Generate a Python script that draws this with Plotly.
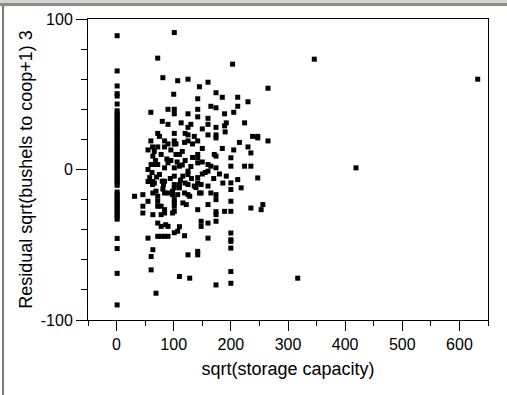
import plotly.graph_objects as go

# Column of points at storage capacity ~0
col_x = [1] * 57
col_y = [88.9, 65.5, 55.5, 50.4, 48.8, 43.5, 39, 37.5, 36, 34.5, 33, 31.5, 30, 28.5, 27,
         25.5, 24, 22.5, 21, 19.5, 18, 16.5, 15, 13.5, 12, 10.5, 9, 7.5, 6, 4.5, 3, 1.5, 0,
         -1.5, -3, -4.5, -6, -7.5, -9, -10.5, -15, -16.5, -18, -19.5, -21, -22.5, -24, -25.5,
         -27, -28.5, -30, -31.5, -33, -45.8, -52.5, -69, -90]

# Scattered points (sqrt storage capacity, residual)
pts_x = [101, 72, 203, 81, 107, 125, 160, 265, 174, 142, 212, 212, 165, 174, 60, 90, 101, 101, 142,
         125, 142, 189, 160, 113, 90, 160, 192, 189, 224, 125, 174, 72, 101, 125, 136, 160, 174, 174,
         238, 247, 247, 265, 75, 60, 84, 101, 125, 142, 63, 72, 84, 90, 101, 104, 119, 133,
         63.5, 78, 104, 110, 142, 142, 142, 171, 174, 200, 235,
         60.5, 66, 72, 84, 90, 101, 110, 55,
         58, 63, 55, 63, 66, 75, 80, 84, 82,
         101, 116, 125, 125, 142, 142, 160, 165, 174, 160, 192, 200, 200, 200, 212, 218, 224, 235, 247,
         101, 110, 125, 136, 148, 160,
         31.5, 46, 55, 63.5, 69, 72, 81, 84, 90, 98, 98, 101, 101, 101, 101, 101, 107, 110, 119, 125,
         128, 139, 145, 148, 165, 174, 174,
         72, 72, 78, 84, 46, 46, 63.5, 78, 84, 98, 116, 122, 142, 160, 174, 174, 189, 200, 200, 235,
         253, 256,
         72, 78, 86, 90, 72, 78, 84, 90, 101, 107, 110, 119, 148, 148, 160, 174, 160, 200, 200, 200,
         200, 55, 63.5, 60.5, 125, 142, 142, 60.5, 110, 128, 174, 200, 200, 69,
         346, 632, 419, 317,
         68, 88, 95, 106, 115, 120, 130, 133, 150, 155, 62, 70, 94, 112, 120, 131, 150, 170, 180, 186,
         55, 66, 95, 115, 150, 185, 205, 215, 230, 120, 150, 190, 80, 130, 205, 185, 100, 145, 230]
pts_y = [91, 74, 70, 61, 59, 60, 58, 54, 51, 47, 48, 42, 42, 41, 38, 40, 40, 37, 40,
         37, 35, 37, 34, 31, 30, 30, 31, 29, 31, 28, 28, 24, 24, 23, 22, 23, 23, 21,
         22, 22, 21, 19, 22, 19, 19, 19, 19, 19, 15, 15, 15, 17, 17, 17, 18, 17,
         8.9, 10, 10, 10, 10, 7.8, 4.4, 10, 8.9, 7.8, 11,
         3.3, 3.3, 3.3, 1.1, 4.4, 1.1, 2.2, 0,
         -5.4, -8, -8, -10, -9, -3.3, -7.8, -7.8, -10,
         -4.4, -4.4, -3.3, -1.1, -5.4, -8.9, 3.3, 2.2, 1.1, -1.1, -4.4, 2.2, -8.9, -13.3, -6.7, -12.2, 2.2, 2.2, -5.6,
         -10, -10, -10, -11, -10, -11,
         -17.8, -16.7, -21.1, -15.6, -14.4, -17.8, -13, -15.6, -15.6, -14.4, -16.7, -12.2, -20, -22, -24.4, -27.8, -16.7, -12.2, -15.6, -16.7,
         -17.8, -12, -15.6, -15.6, -15.6, -16.7, -20,
         -21.1, -24.4, -24.4, -26.7, -24.4, -28.9, -30, -30, -28.9, -28.9, -22.2, -23.3, -26.7, -23.3, -28, -30, -27.8, -21.1, -27.8, -25.6,
         -26.7, -23.3,
         -35.6, -37.8, -36.7, -37.8, -44.4, -44.4, -44.4, -44.4, -42, -41, -38, -44, -34.4, -37.8, -35.6, -34.4, -45.6, -42.2, -46.7, -47.8,
         -52.2, -45.6, -53.3, -57.8, -56.7, -54.4, -56.7, -66.7, -71.1, -72.2, -76.7, -67.8, -75.6, -82.2,
         73.3, 60, 1.1, -72.2,
         6, 7, 6, 5, 3, 6, 2, 8, 5, -2, -2, -5, -6, -7, -9, -6, -3, -6, -3, -9,
         13, 12, 13, 12, 14, 14, 13, 18, 15, 24, 27, 25, 32, 30, 38, 48, 50, 55, 45]

x_all = col_x + pts_x
y_all = col_y + pts_y

font_family = "Liberation Sans, Arial, sans-serif"

fig = go.Figure()
fig.add_trace(go.Scatter(
    x=x_all, y=y_all, mode="markers",
    marker=dict(symbol="square", size=5, color="black", line=dict(width=0)),
    showlegend=False, hoverinfo="skip"))

W, H = 507, 395
L, R, T, B = 88, 19, 19, 75
pw, ph = W - L - R, H - T - B

def px(xp):
    return (xp - L) / pw

def py(yp):
    return (H - B - yp) / ph

shapes = [
    dict(type="rect", xref="paper", yref="paper", x0=px(0), x1=px(W), y0=py(3), y1=py(0),
         fillcolor="#d8d5ce", line=dict(width=0), layer="above"),
    dict(type="rect", xref="paper", yref="paper", x0=px(0), x1=px(W), y0=py(6), y1=py(3),
         fillcolor="#8c8c8c", line=dict(width=0), layer="above"),
    dict(type="rect", xref="paper", yref="paper", x0=px(2), x1=px(4), y0=py(H), y1=py(6),
         fillcolor="#7a7a7a", line=dict(width=0), layer="above"),
]

fig.update_layout(
    width=W, height=H,
    margin=dict(l=L, r=R, t=T, b=B, pad=0),
    paper_bgcolor="white", plot_bgcolor="white",
    font=dict(family=font_family, color="black"),
    shapes=shapes,
    xaxis=dict(
        range=[-50, 650], tickmode="linear", tick0=0, dtick=100,
        ticks="outside", ticklen=10, tickwidth=1, tickcolor="black",
        showline=True, linecolor="black", linewidth=1, mirror=True,
        showgrid=False, zeroline=False,
        minor=dict(ticks="outside", ticklen=5, tickmode="linear", tick0=0, dtick=50,
                   tickcolor="black", showgrid=False),
        tickfont=dict(size=16, family=font_family, color="black"),
        title=dict(text="sqrt(storage capacity)", font=dict(size=18, family=font_family, color="black"),
                   standoff=10),
        automargin=False,
    ),
    yaxis=dict(
        range=[-100, 100], tickmode="array", tickvals=[-100, 0, 100], ticktext=["-100", "0", "100"],
        ticks="outside", ticklen=11, tickwidth=1, tickcolor="black",
        showline=True, linecolor="black", linewidth=1, mirror=True,
        showgrid=False, zeroline=False,
        minor=dict(ticks="outside", ticklen=6, tickmode="linear", tick0=0, dtick=20,
                   tickcolor="black", showgrid=False),
        tickfont=dict(size=16, family=font_family, color="black"),
        title=dict(text="Residual sqrt(bushels to coop+1) 3",
                   font=dict(size=18, family=font_family, color="black"), standoff=3),
        automargin=False,
    ),
)

fig.write_html("out.html")
